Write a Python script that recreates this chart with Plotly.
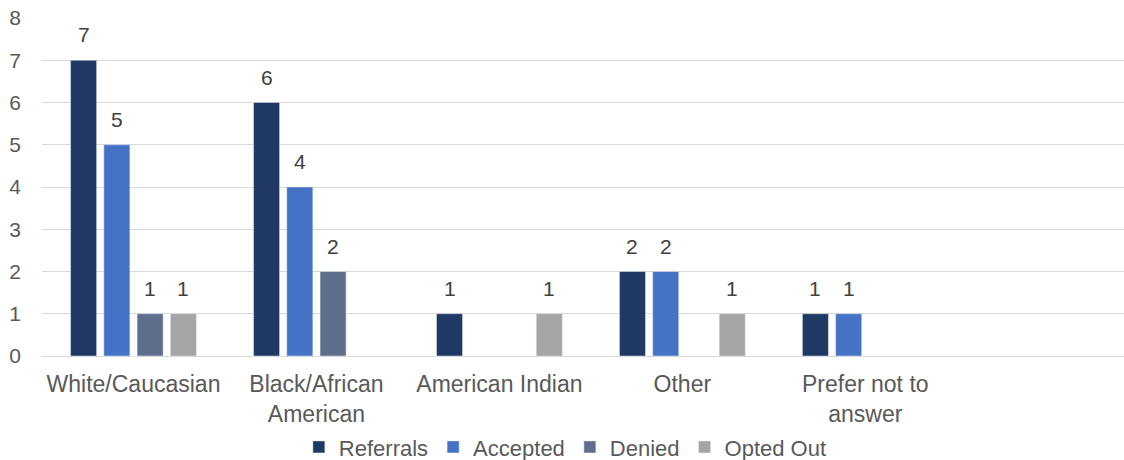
import plotly.graph_objects as go

categories = ["White/Caucasian", "Black/African<br>American", "American Indian", "Other", "Prefer not to<br>answer", ""]
referrals = [7, 6, 1, 2, 1, None]
accepted = [5, 4, None, 2, 1, None]
denied = [1, 2, None, None, None, None]
opted_out = [1, None, 1, 1, None, None]

series = [
    ("Referrals", referrals, "#203864"),
    ("Accepted", accepted, "#4472C4"),
    ("Denied", denied, "#5F6E8C"),
    ("Opted Out", opted_out, "#A5A5A5"),
]

FONT = "Liberation Sans, Arial"
bargap = 0.273
n = len(series)
slot = (1 - bargap) / n

xs = list(range(len(categories)))
fig = go.Figure()
for j, (name, vals, color) in enumerate(series):
    fig.add_trace(go.Bar(
        x=xs, y=vals, name=name, marker_color=color,
    ))
    off = (j - (n - 1) / 2) * slot
    for x, v in zip(xs, vals):
        if v is None:
            continue
        fig.add_annotation(
            x=x + off, y=v, xref="x", yref="y", text=str(v),
            showarrow=False, yanchor="bottom", yshift=12,
            font=dict(size=21, color="#404040", family=FONT),
        )

fig.update_layout(
    width=1124, height=460,
    margin=dict(l=42, r=0, t=18, b=104, autoexpand=False),
    paper_bgcolor="white", plot_bgcolor="white",
    barmode="group", bargap=bargap, bargroupgap=0.217,
    font=dict(family=FONT, size=22, color="#595959"),
    xaxis=dict(
        tickmode="array", tickvals=xs, ticktext=categories,
        range=[-0.5, 5.414], showgrid=False, showline=False, zeroline=False,
        tickfont=dict(size=23, color="#595959"), ticks="",
        automargin=False, ticklabelstandoff=12,
    ),
    yaxis=dict(
        range=[0, 8], dtick=1, showgrid=True, gridcolor="#D9D9D9", gridwidth=1,
        zeroline=True, zerolinecolor="#D9D9D9", zerolinewidth=1,
        tickfont=dict(size=21, color="#595959"), ticks="", showline=False,
        automargin=False, ticklabelstandoff=20,
    ),
    legend=dict(
        orientation="h", xref="container", yref="container",
        x=0.503, xanchor="center", y=0.028, yanchor="middle",
        font=dict(size=22, color="#595959"), itemwidth=30, traceorder="normal",
    ),
    showlegend=True,
)

fig.write_html(
    "out.html",
    config={"displayModeBar": False},
    post_script="document.body.style.margin='0';document.body.style.overflow='hidden';",
)
